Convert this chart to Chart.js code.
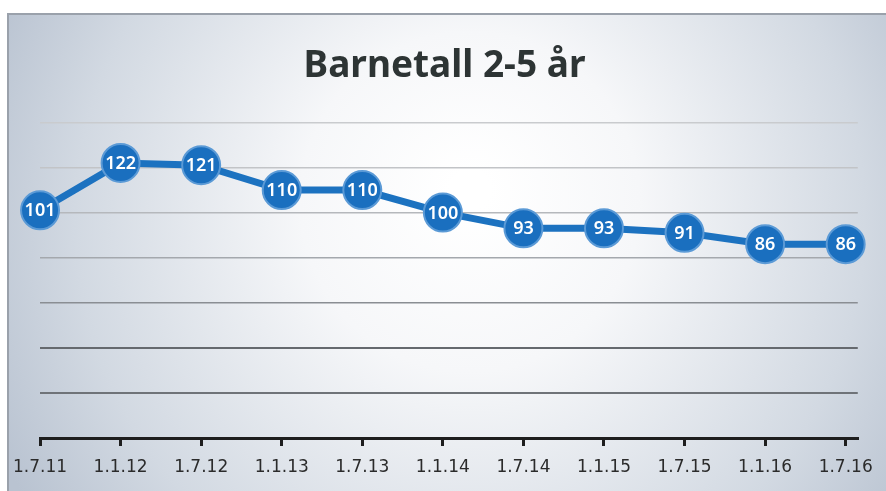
<!DOCTYPE html>
<html>
<head>
<meta charset="utf-8">
<script src="https://cdn.jsdelivr.net/npm/chart.js"></script>
<style>
  html, body { margin: 0; padding: 0; background: #fff; }
  #wrap { width: 886px; height: 491px; }
</style>
</head>
<body>
<div id="wrap"><canvas id="barnChart" width="886" height="491"></canvas></div>
<script>
// data
const dates = ['1.7.11', '1.1.12', '1.7.12', '1.1.13', '1.7.13', '1.1.14', '1.7.14', '1.1.15', '1.7.15', '1.1.16', '1.7.16'];
const children = [101, 122, 121, 110, 110, 100, 93, 93, 91, 86, 86];
const yTicks = [0, 20, 40, 60, 80, 100, 120, 140];

const gridColors = { 20: '#6f7378', 40: '#65696e', 60: '#8a8e93', 80: '#a4a8ad', 100: '#b5b8bc', 120: '#c2c4c7', 140: '#c9cbce' };

// scanned-paper background
const bgPlugin = {
  id: 'bg',
  beforeDraw(chart) {
    const ctx = chart.ctx;
    ctx.save();
    ctx.fillStyle = '#ffffff';
    ctx.fillRect(0, 0, chart.width, chart.height);
    const g = ctx.createRadialGradient(470, 190, 20, 470, 230, 520);
    g.addColorStop(0, '#ffffff');
    g.addColorStop(0.3, '#f6f7f9');
    g.addColorStop(0.75, '#d2d9e2');
    g.addColorStop(1, '#b9c3d1');
    ctx.fillStyle = g;
    ctx.fillRect(8, 14, chart.width - 8, chart.height - 14);
    ctx.strokeStyle = '#9aa1ab';
    ctx.lineWidth = 2;
    ctx.beginPath();
    ctx.moveTo(8, chart.height);
    ctx.lineTo(8, 14);
    ctx.lineTo(chart.width, 14);
    ctx.stroke();
    ctx.restore();
  }
};

// value labels inside the markers
const valueLabels = {
  id: 'valueLabels',
  afterDatasetsDraw(chart) {
    const ctx = chart.ctx;
    const meta = chart.getDatasetMeta(0);
    ctx.save();
    ctx.fillStyle = '#ffffff';
    ctx.font = '600 18px "Noto Sans"';
    ctx.textAlign = 'center';
    ctx.textBaseline = 'middle';
    meta.data.forEach((pt, i) => {
      ctx.fillText(children[i], pt.x, pt.y + 1);
    });
    ctx.restore();
  }
};

const ctx = document.getElementById('barnChart');
new Chart(ctx, {
  type: 'line',
  data: {
    datasets: [{
      label: 'Barnetall 2-5 år',
      data: children.map((v, i) => ({ x: i, y: v })),
      borderColor: '#1c72c0',
      borderWidth: 7,
      backgroundColor: '#1c72c0',
      pointRadius: 19,
      pointBorderColor: '#5b9ad6',
      pointBorderWidth: 2,
      pointBackgroundColor: '#1a6fbf',
      tension: 0,
      clip: false
    }]
  },
  options: {
    responsive: false,
    animation: false,
    events: [],
    layout: { padding: { top: 44, left: 31, right: 28, bottom: 2 } },
    plugins: {
      legend: { display: false },
      tooltip: { enabled: false },
      title: {
        display: true,
        text: 'Barnetall 2-5 år',
        color: '#2d3434',
        font: { family: '"Noto Sans"', size: 37, weight: 'bold' },
        padding: { top: 0, bottom: 34 }
      }
    },
    scales: {
      x: {
        type: 'linear',
        min: 0,
        max: 10.15,
        afterBuildTicks(axis) {
          axis.ticks = dates.map((d, i) => ({ value: i }));
        },
        ticks: {
          callback: (v) => dates[v],
          color: '#2b2b2b',
          font: { family: '"DejaVu Sans"', size: 17, lineHeight: 1 },
          padding: 13,
          maxRotation: 0,
          autoSkip: false
        },
        grid: { drawOnChartArea: false, drawTicks: true, tickLength: 8, color: '#1e1e1e', lineWidth: 3 },
        border: { display: true, color: '#1e1e1e', width: 3 }
      },
      y: {
        min: 0,
        max: 140,
        afterBuildTicks(axis) {
          axis.ticks = yTicks.map(v => ({ value: v }));
        },
        ticks: { display: false },
        grid: {
          drawTicks: false,
          color: (c) => gridColors[c.tick.value] || 'rgba(0,0,0,0)',
          lineWidth: (c) => c.tick.value <= 40 ? 2 : 1.5
        },
        border: { display: false }
      }
    }
  },
  plugins: [bgPlugin, valueLabels]
});
</script>
</body>
</html>
